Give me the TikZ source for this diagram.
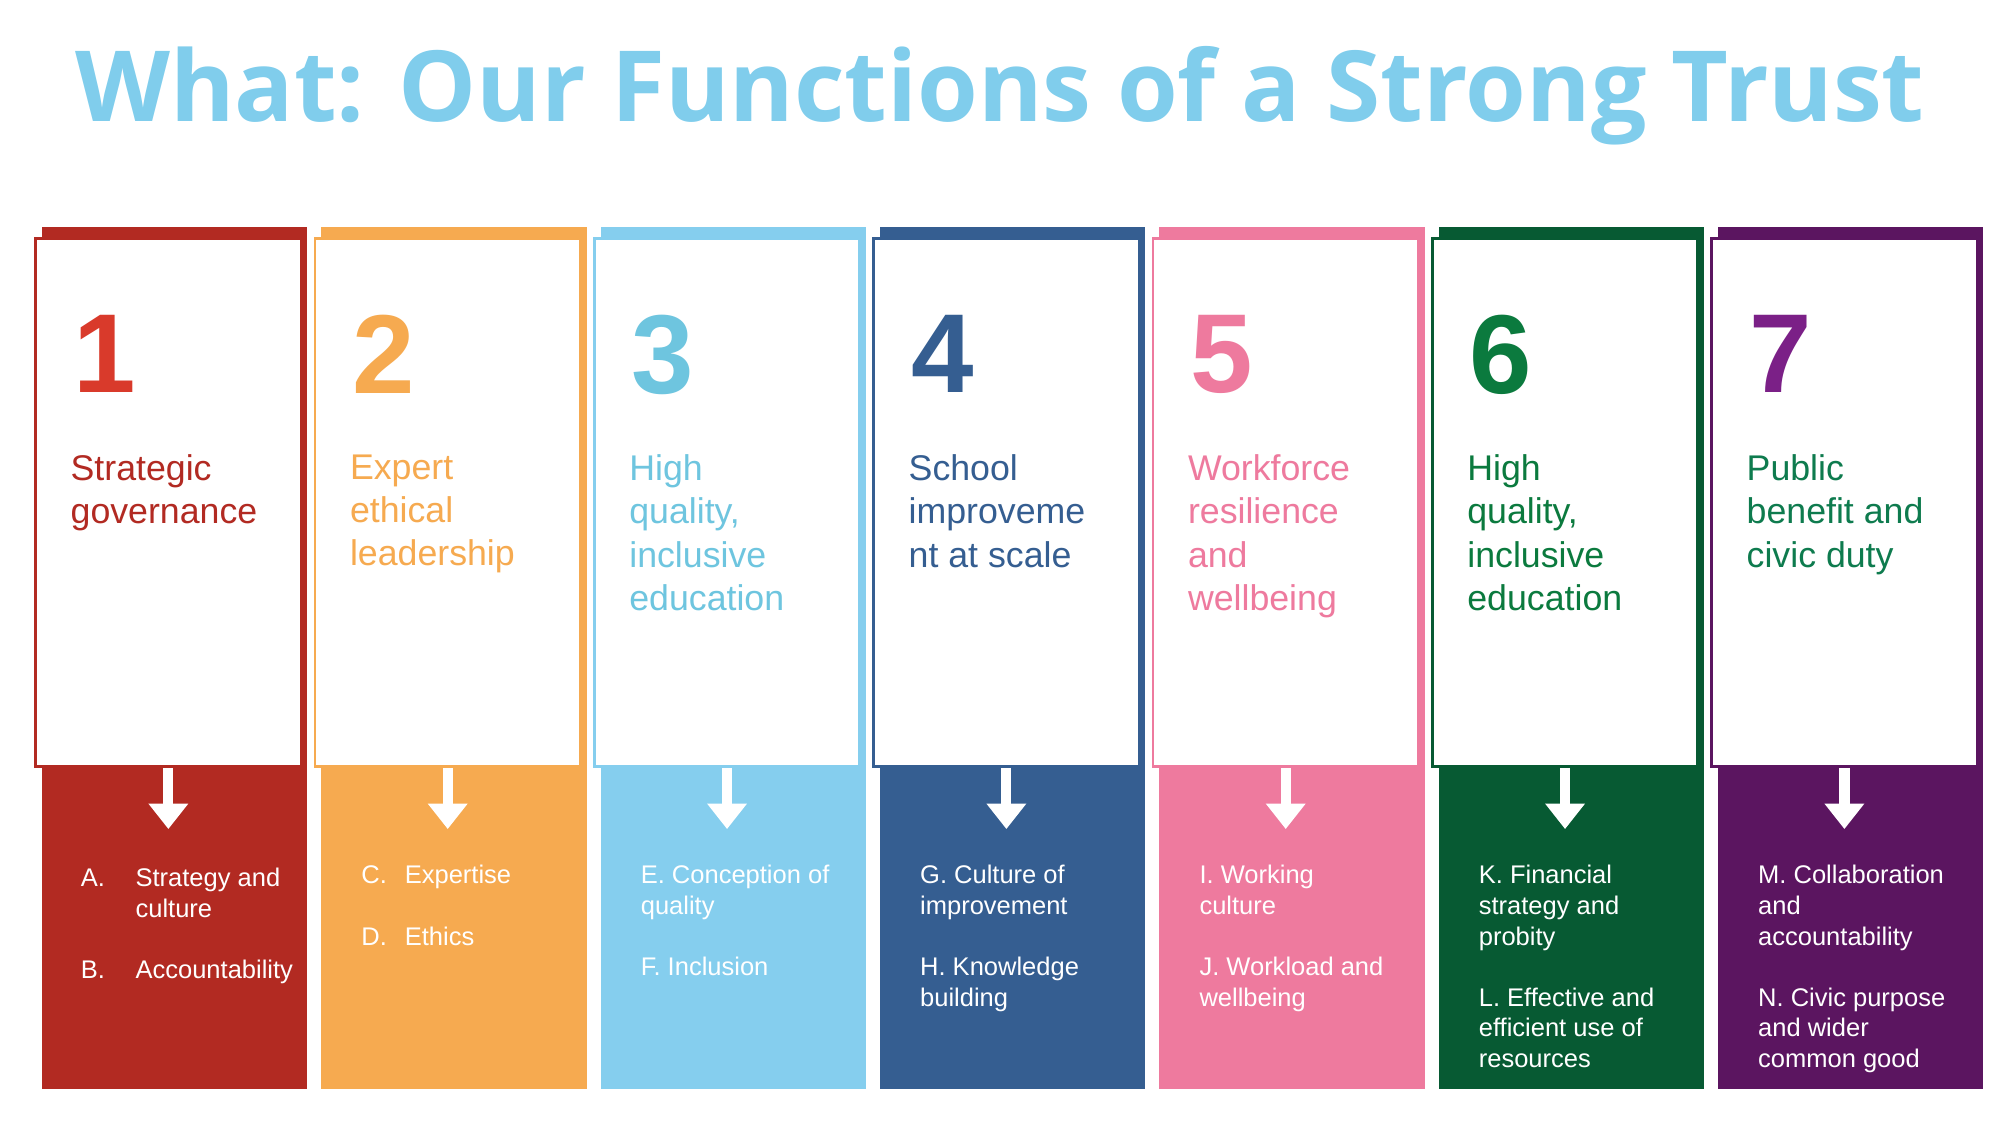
\documentclass[tikz,border=0pt]{standalone}
\usepackage{fontspec}
\setmainfont{Liberation Sans}
\newfontfamily\titlefont{Open Sans}
\usetikzlibrary{arrows.meta}
\definecolor{cA}{HTML}{B22A22}\definecolor{nA}{HTML}{D93A2B}
\definecolor{cB}{HTML}{F6AA50}
\definecolor{cC}{HTML}{85CEEE}\definecolor{tC}{HTML}{6EC5DF}
\definecolor{cD}{HTML}{355E91}
\definecolor{cE}{HTML}{EE7A9E}
\definecolor{cF}{HTML}{075A33}\definecolor{tF}{HTML}{0B7A3E}
\definecolor{cG}{HTML}{5B1560}\definecolor{nG}{HTML}{7B2087}\definecolor{tG}{HTML}{0E7B4E}
\definecolor{ttl}{HTML}{80CDEC}
\tikzset{
 bar/.style={fill=#1,draw=none},
 wbox/.style={draw=#1,line width=1pt,fill=white,minimum width=104pt,minimum height=207pt,inner sep=0pt,anchor=north west},
 numtxt/.style={text=#1,font=\fontsize{44}{44}\selectfont\bfseries,anchor=north west,inner sep=0pt},
 ttltxt/.style={text=#1,font=\fontsize{14}{17}\selectfont,anchor=north west,inner sep=0pt,align=left},
 itemtxt/.style={text=white,font=\fontsize{10}{12}\selectfont,anchor=north west,inner sep=0pt,align=left},
 downarrow/.style={white,line width=4pt,-{Triangle[width=15pt,length=10pt]}},
}
\newcommand\fcol[8]{%
 \fill[bar=#2] (#1,178) rectangle ++(208,676);
 \node[wbox=#2] (box#5) at (#1-6,186) {};
 \node[numtxt=#3] (num#5) at (#1+24,247) {#5};
 \node[ttltxt=#4] (ttl#5) at (#1+22,356) {#6};
 \draw[downarrow] (box#5.south) -- ++(0,48) coordinate (tip#5);
 \node[itemtxt] (items#5) at (#1+#7,678) {#8};
}
\begin{document}
\begin{tikzpicture}[x=0.5pt,y=-0.5pt]
\useasboundingbox (0,0) rectangle (1568,881);
\node[text=ttl,font=\titlefont\fontsize{38.5}{40}\selectfont\bfseries] (title) at (784,75) {What: Our Functions of a Strong Trust};
\fcol{33}{cA}{nA}{cA}{1}{Strategic\\governance}{30}{A.\hspace{12pt}\begin{tabular}[t]{@{}l@{}}Strategy and\\culture\end{tabular}\\[12pt]B.\hspace{12pt}Accountability}
\fcol{252}{cB}{cB}{cB}{2}{Expert\\ethical\\leadership}{31}{C.\hspace{7pt}Expertise\\[12pt]D.\hspace{7pt}Ethics}
\fcol{471}{cC}{tC}{tC}{3}{High\\quality,\\inclusive\\education}{31}{E. Conception of\\quality\\[12pt]F. Inclusion}
\fcol{690}{cD}{cD}{cD}{4}{School\\improveme\\nt at scale}{31}{G. Culture of\\improvement\\[12pt]H. Knowledge\\building}
\fcol{909}{cE}{cE}{cE}{5}{Workforce\\resilience\\and\\wellbeing}{31}{I. Working\\culture\\[12pt]J. Workload and\\wellbeing}
\fcol{1128}{cF}{tF}{tF}{6}{High\\quality,\\inclusive\\education}{31}{K. Financial\\strategy and\\probity\\[12pt]L. Effective and\\efficient use of\\resources}
\fcol{1347}{cG}{nG}{tG}{7}{Public\\benefit and\\civic duty}{31}{M. Collaboration\\and\\accountability\\[12pt]N. Civic purpose\\and wider\\common good}
\end{tikzpicture}
\end{document}
